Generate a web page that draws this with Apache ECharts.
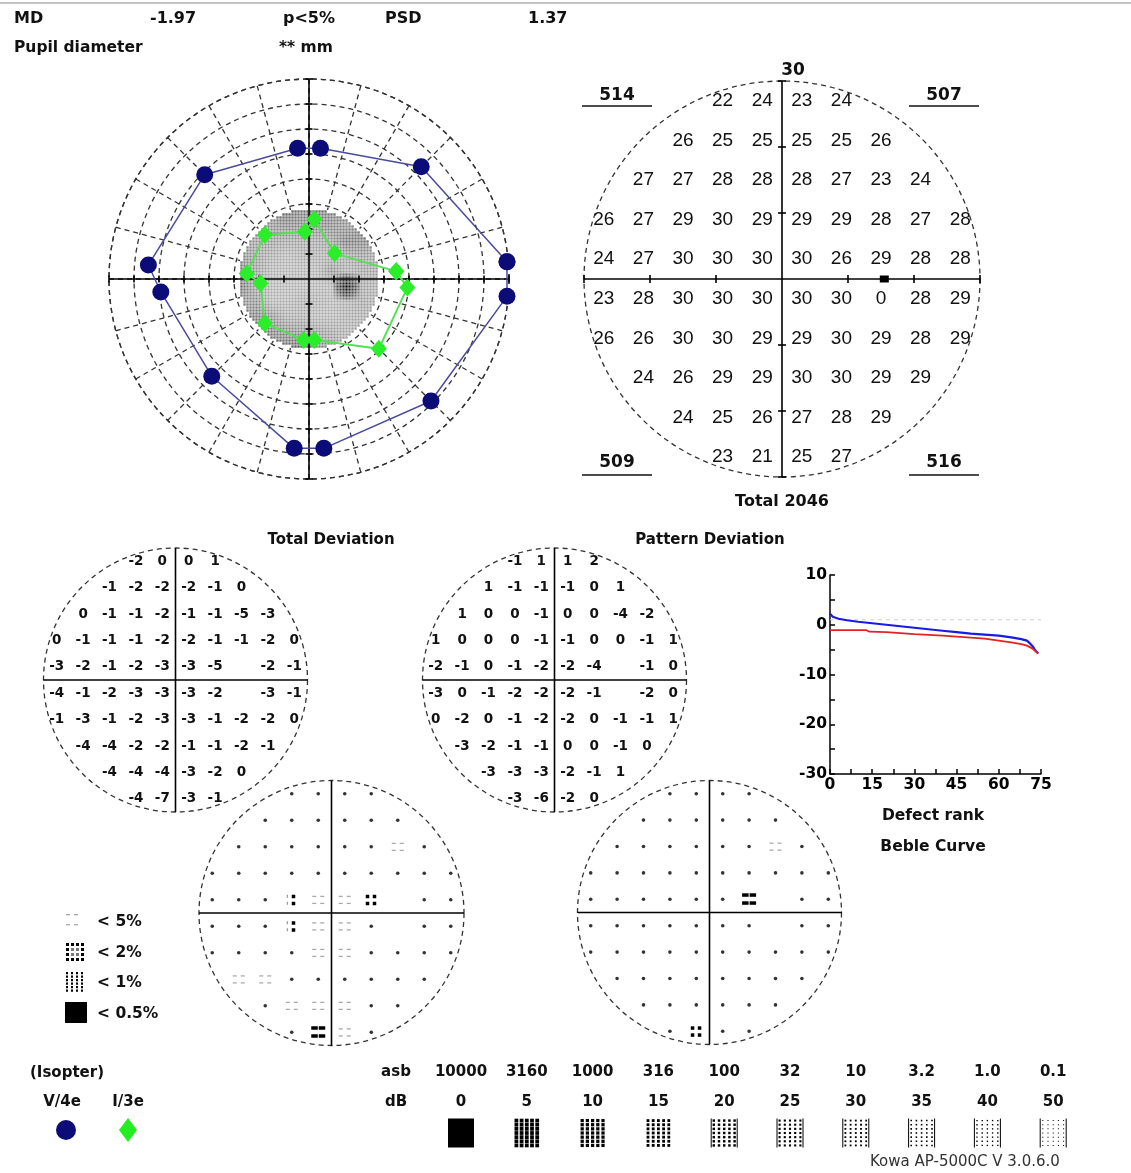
<!DOCTYPE html>
<html>
<head>
<meta charset="utf-8">
<script src="https://cdn.jsdelivr.net/npm/echarts@6/dist/echarts.min.js"></script>
<style>
  html, body { margin: 0; padding: 0; background: #fff; }
  #chart { width: 1131px; height: 1173px; }
</style>
</head>
<body>
<div id="chart"></div>
<script>
// header values
const mdValue = "-1.97";
const mdProb = "p<5%";
const psdValue = "1.37";
const pupilValue = "** mm";

// kinetic isopters: meridian (deg) and eccentricity (deg)
const v4eAngle = [5, 45, 85, 95, 135, 175, 185, 225, 265, 275, 315, 355];
const v4eEcc = [79.5, 63.5, 52.5, 52.5, 59, 64.5, 59.5, 55, 68, 68, 69, 79.5];
const i3eAngle = [5, 45, 85, 95, 135, 175, 185, 225, 265, 275, 315, 355];
const i3eEcc = [35, 14.5, 24, 19, 25, 25, 19.5, 25, 24.5, 24.5, 39.5, 39.5];

// 30-2 grid rows (top to bottom), each row centred on the vertical meridian
const rowY = [27, 21, 15, 9, 3, -3, -9, -15, -21, -27];
const threshold = [
  [22, 24, 23, 24],
  [26, 25, 25, 25, 25, 26],
  [27, 27, 28, 28, 28, 27, 23, 24],
  [26, 27, 29, 30, 29, 29, 29, 28, 27, 28],
  [24, 27, 30, 30, 30, 30, 26, 29, 28, 28],
  [23, 28, 30, 30, 30, 30, 30, 0, 28, 29],
  [26, 26, 30, 30, 29, 29, 30, 29, 28, 29],
  [24, 26, 29, 29, 30, 30, 29, 29],
  [24, 25, 26, 27, 28, 29],
  [23, 21, 25, 27]
];
const blindSpot = [15.5, 0];
const totalDev = [
  [-2, 0, 0, 1],
  [-1, -2, -2, -2, -1, 0],
  [0, -1, -1, -2, -1, -1, -5, -3],
  [0, -1, -1, -1, -2, -2, -1, -1, -2, 0],
  [-3, -2, -1, -2, -3, -3, -5, null, -2, -1],
  [-4, -1, -2, -3, -3, -3, -2, null, -3, -1],
  [-1, -3, -1, -2, -3, -3, -1, -2, -2, 0],
  [-4, -4, -2, -2, -1, -1, -2, -1],
  [-4, -4, -4, -3, -2, 0],
  [-4, -7, -3, -1]
];
const patternDev = [
  [-1, 1, 1, 2],
  [1, -1, -1, -1, 0, 1],
  [1, 0, 0, -1, 0, 0, -4, -2],
  [1, 0, 0, 0, -1, -1, 0, 0, -1, 1],
  [-2, -1, 0, -1, -2, -2, -4, null, -1, 0],
  [-3, 0, -1, -2, -2, -2, -1, null, -2, 0],
  [0, -2, 0, -1, -2, -2, 0, -1, -1, 1],
  [-3, -2, -1, -1, 0, 0, -1, 0],
  [-3, -3, -3, -2, -1, 1],
  [-3, -6, -2, 0]
];
// probability class: 0 normal, 1 <5%, 2 <2%, 3 <1%, 4 <0.5%
const totalProb = [
  [0, 0, 0, 0],
  [0, 0, 0, 0, 0, 0],
  [0, 0, 0, 0, 0, 0, 1, 0],
  [0, 0, 0, 0, 0, 0, 0, 0, 0, 0],
  [0, 0, 0, 2, 1, 1, 3, null, 0, 0],
  [0, 0, 0, 2, 1, 1, 0, null, 0, 0],
  [0, 0, 0, 0, 1, 1, 0, 0, 0, 0],
  [1, 1, 0, 0, 0, 0, 0, 0],
  [0, 1, 1, 1, 0, 0],
  [0, 4, 1, 0]
];
const patternProb = [
  [0, 0, 0, 0],
  [0, 0, 0, 0, 0, 0],
  [0, 0, 0, 0, 0, 0, 1, 0],
  [0, 0, 0, 0, 0, 0, 0, 0, 0, 0],
  [0, 0, 0, 0, 0, 0, 4, null, 0, 0],
  [0, 0, 0, 0, 0, 0, 0, null, 0, 0],
  [0, 0, 0, 0, 0, 0, 0, 0, 0, 0],
  [0, 0, 0, 0, 0, 0, 0, 0],
  [0, 0, 0, 0, 0, 0],
  [0, 3, 0, 0]
];
const probLabels = ["< 5%", "< 2%", "< 1%", "< 0.5%"];

// Bebie curve
const blueRank = [0, 1, 3, 6, 10, 15, 20, 25, 30, 35, 40, 45, 50, 55, 60, 65, 68, 70, 71, 72, 73, 74];
const blueTD = [2.2, 1.6, 1.2, 0.9, 0.6, 0.3, 0, -0.3, -0.6, -0.9, -1.2, -1.5, -1.8, -2.0, -2.2, -2.6, -2.9, -3.2, -3.7, -4.3, -5.2, -5.8];
const redRank = [0, 13, 14, 20, 30, 40, 45, 50, 55, 60, 65, 68, 70, 72, 74];
const redTD = [-1.1, -1.1, -1.4, -1.5, -1.9, -2.2, -2.4, -2.6, -2.8, -3.2, -3.6, -3.9, -4.2, -4.8, -5.8];
const refTD = 1;

// stimulus scale
const asbLevels = ["10000", "3160", "1000", "316", "100", "32", "10", "3.2", "1.0", "0.1"];
const dbLevels = [0, 5, 10, 15, 20, 25, 30, 35, 40, 50];

const FONT = '"DejaVu Sans", sans-serif';
const bold = s => "bold " + s + "px " + FONT;

function gridPoints(table) {
  const out = [];
  table.forEach((row, r) => {
    const x0 = -(row.length - 1) * 3;
    row.forEach((v, k) => { if (v !== null) out.push([x0 + 6 * k, rowY[r], v]); });
  });
  return out;
}
const thrPts = gridPoints(threshold);

// full 10x10 table for interpolation of the grey scale
const full = rowY.map(() => new Array(10).fill(null));
threshold.forEach((row, r) => {
  const c0 = (10 - row.length) / 2;
  row.forEach((v, k) => { full[r][c0 + k] = v; });
});
function thrAt(x, y) {
  const fi = (x + 27) / 6, fj = (27 - y) / 6;
  const i0 = Math.max(0, Math.min(8, Math.floor(fi)));
  const j0 = Math.max(0, Math.min(8, Math.floor(fj)));
  const tx = Math.max(0, Math.min(1, fi - i0));
  const ty = Math.max(0, Math.min(1, fj - j0));
  let s = 0, w = 0;
  [[0, 0], [1, 0], [0, 1], [1, 1]].forEach(([a, b]) => {
    const v = full[j0 + b][i0 + a];
    if (v === null) return;
    const ww = (a ? tx : 1 - tx) * (b ? ty : 1 - ty);
    s += v * ww; w += ww;
  });
  if (w > 1e-6) return s / w;
  let best = 30, bd = 1e9;
  thrPts.forEach(p => {
    const d = (p[0] - x) ** 2 + (p[1] - y) ** 2;
    if (d < bd) { bd = d; best = p[2]; }
  });
  return best;
}
function shade(v) {
  const l = v >= 20 ? 0.3 + (v - 20) / 10 * 0.36 : Math.max(0, v) / 20 * 0.3;
  const g = Math.round(l * 255);
  return "rgb(" + g + "," + g + "," + g + ")";
}
const greyCells = [];
for (let x = -28.2; x <= 28.3; x += 1.2) {
  for (let y = -28.2; y <= 28.3; y += 1.2) {
    if (x * x + y * y <= 28 * 28) {
      greyCells.push({ value: [x, y], itemStyle: { color: shade(thrAt(x, y)) } });
    }
  }
}

// layout of the panels
const grids = [
  { left: 109, top: 79, width: 400, height: 400 },     // kinetic
  { left: 584, top: 81, width: 396, height: 396 },     // threshold
  { left: 43.5, top: 548, width: 264, height: 264 },   // total deviation
  { left: 422.5, top: 548, width: 264, height: 264 },  // pattern deviation
  { left: 830, top: 575, width: 211, height: 199, outerBoundsMode: "none" }, // bebie
  { left: 199, top: 780.5, width: 265, height: 265 },  // td probability
  { left: 577.5, top: 780.5, width: 264, height: 264 } // pd probability
];
const ranges = [80, 30, 30, 30, null, 30, 30];

const axisCommon = {
  axisLine: { onZero: false, lineStyle: { color: "#000", width: 1.5 } },
  axisTick: { inside: true, length: 5, lineStyle: { color: "#000", width: 1.5 } },
  minorTick: { show: true, splitNumber: 2, length: 5, lineStyle: { color: "#000", width: 1.5 } },
  axisLabel: { color: "#000", fontSize: 15.5, fontWeight: "bold", fontFamily: FONT, margin: 3 },
  splitLine: { show: false }
};
const xAxis = grids.map((g, i) => i === 4
  ? Object.assign({ gridIndex: 4, type: "value", min: 0, max: 75, interval: 15 }, axisCommon)
  : { gridIndex: i, type: "value", min: -ranges[i], max: ranges[i], show: false });
const yAxis = grids.map((g, i) => i === 4
  ? Object.assign({ gridIndex: 4, type: "value", min: -30, max: 10, interval: 10 }, axisCommon)
  : { gridIndex: i, type: "value", min: -ranges[i], max: ranges[i], show: false });

function circleSeries(ax, R, fill, z) {
  return {
    type: "custom", xAxisIndex: ax, yAxisIndex: ax, silent: true, z: z, data: [[0, 0]],
    renderItem: (params, api) => {
      const c = api.coord([0, 0]), e = api.coord([R, 0]);
      return {
        type: "circle", shape: { cx: c[0], cy: c[1], r: e[0] - c[0] },
        style: fill ? { fill: fill } : { fill: "none", stroke: "#333", lineWidth: 1.3, lineDash: [5, 4] }
      };
    }
  };
}
function crossSeries(ax, R, step, len) {
  return {
    type: "custom", xAxisIndex: ax, yAxisIndex: ax, silent: true, z: 6, data: [[0, 0]],
    renderItem: (params, api) => {
      const st = { stroke: "#000", lineWidth: 1.6 };
      const L = (x1, y1, x2, y2) => ({ type: "line", shape: { x1, y1, x2, y2 }, style: st });
      const a = api.coord([-R, 0]), b = api.coord([R, 0]);
      const c = api.coord([0, R]), d = api.coord([0, -R]);
      const ch = [L(a[0], a[1], b[0], b[1]), L(c[0], c[1], d[0], d[1])];
      if (step) {
        for (let t = -R; t <= R; t += step) {
          if (t === 0) continue;
          const p = api.coord([t, 0]), q = api.coord([0, t]);
          ch.push(L(p[0], p[1] - len, p[0], p[1] + len));
          ch.push(L(q[0] - len, q[1], q[0] + len, q[1]));
        }
      }
      return { type: "group", children: ch };
    }
  };
}
function textSeries(ax, pts, font) {
  return {
    type: "custom", xAxisIndex: ax, yAxisIndex: ax, silent: true, z: 7, data: pts,
    renderItem: (params, api) => {
      const p = api.coord([api.value(0), api.value(1)]);
      return {
        type: "text", x: p[0], y: p[1],
        style: { text: String(api.value(2)), font: font, fill: "#111",
                 align: "center", verticalAlign: "middle", textAlign: "center", textVerticalAlign: "middle" }
      };
    }
  };
}
function probShape(cx, cy, lvl) {
  const R = (x, y, w, h, c) => ({ type: "rect", shape: { x: cx + x, y: cy + y, width: w, height: h }, style: { fill: c } });
  let ch;
  if (lvl === 0) ch = [{ type: "circle", shape: { cx: cx, cy: cy, r: 1.8 }, style: { fill: "#333" } }];
  else if (lvl === 1) ch = [R(-6, -4, 4, 1.3, "#aaa"), R(2, -4, 4, 1.3, "#aaa"), R(-6, 3, 4, 1.3, "#aaa"), R(2, 3, 4, 1.3, "#aaa")];
  else if (lvl === 2) ch = [R(-5, -5, 1.3, 3, "#999"), R(0, -5, 3.5, 3.5, "#000"), R(-5, 2, 1.3, 3, "#999"), R(0, 2, 3.5, 3.5, "#000")];
  else if (lvl === 3) ch = [R(-5.5, -5, 3.5, 3.5, "#000"), R(1.5, -5, 3.5, 3.5, "#000"), R(-5.5, 2, 3.5, 3.5, "#000"), R(1.5, 2, 3.5, 3.5, "#000")];
  else ch = [R(-7, -6, 6.5, 3.5, "#000"), R(0.5, -6, 6.5, 3.5, "#000"), R(-7, 2, 6.5, 3.5, "#000"), R(0.5, 2, 6.5, 3.5, "#000")];
  return { type: "group", children: ch };
}
function probSeries(ax, pts) {
  return {
    type: "custom", xAxisIndex: ax, yAxisIndex: ax, silent: true, z: 7, data: pts,
    renderItem: (params, api) => {
      const p = api.coord([api.value(0), api.value(1)]);
      return probShape(p[0], p[1], api.value(2));
    }
  };
}
const closed = (ecc, ang) => ecc.map((e, i) => [e, ang[i]]).concat([[ecc[0], ang[0]]]);

// graphic texts and legends
const g = [];
const txt = (text, x, y, font, align, extra, color) => g.push(Object.assign({
  type: "text", x: x, y: y, z: 100,
  style: { text: text, font: font, fill: color || "#111", align: align || "left", verticalAlign: "middle",
           textAlign: align || "left", textVerticalAlign: "middle" }
}, extra || {}));
const rect = (x, y, w, h, c) => g.push({ type: "rect", z: 100, shape: { x, y, width: w, height: h }, style: { fill: c } });
const line = (x1, y1, x2, y2, c, w) => g.push({ type: "line", z: 100, shape: { x1, y1, x2, y2 }, style: { stroke: c, lineWidth: w } });

line(0, 3, 1131, 3, "#c4c4c4", 2);
txt("MD", 14, 19, bold(16));
txt(mdValue, 150, 19, bold(16));
txt(mdProb, 283, 19, bold(16));
txt("PSD", 385, 19, bold(16));
txt(psdValue, 528, 19, bold(16));
txt("Pupil diameter", 14, 48, bold(15.5));
txt(pupilValue, 279, 48, bold(15.5));

// quadrant sums of the threshold grid
const qsum = (fx, fy) => thrPts.filter(p => fx(p[0]) && fy(p[1])).reduce((s, p) => s + p[2], 0);
const neg = v => v < 0, pos = v => v > 0;
const quads = [
  [qsum(neg, pos), 617, 96, 106], [qsum(pos, pos), 944, 96, 106],
  [qsum(neg, neg), 617, 463, 475], [qsum(pos, neg), 944, 463, 475]
];
quads.forEach(q => {
  txt(String(q[0]), q[1], q[2], bold(17), "center");
  line(q[1] - 35, q[3], q[1] + 35, q[3], "#111", 1.5);
});
txt("30", 793, 71, bold(17), "center");
txt("Total " + thrPts.reduce((s, p) => s + p[2], 0), 782, 502, bold(16), "center");
txt("Total Deviation", 331, 540, bold(15), "center");
txt("Pattern Deviation", 710, 540, bold(15), "center");
txt("TD(dB)", 779, 668, bold(15), "center", { rotation: Math.PI / 2, originX: 779, originY: 668 });
txt("Defect rank", 933, 816, bold(15.5), "center");
txt("Beble Curve", 933, 847, bold(15.5), "center");

// probability legend
const legY = [920, 951, 981, 1012];
[[66, 914], [74, 914], [66, 924], [74, 924]].forEach(p => rect(p[0], p[1], 4, 1.3, "#aaa"));
for (let i = 0; i < 4; i++) for (let j = 0; j < 4; j++) {
  const inner = (i === 1 || i === 2) && (j === 1 || j === 2);
  rect(66 + i * 5, 943 + j * 5, 3, 3, inner ? "#777" : "#000");
}
for (let i = 0; i < 4; i++) for (let j = 0; j < 6; j++) rect(66 + i * 5, 972 + j * 3.5, 2, 2.3, "#000");
rect(65, 1002, 22, 21, "#000");
probLabels.forEach((t, i) => txt(t, 97, legY[i] + 2, bold(15.5)));

// isopter legend
txt("(Isopter)", 30, 1073, bold(15));
txt("V/4e", 62, 1102, bold(15), "center");
txt("I/3e", 128, 1102, bold(15), "center");
g.push({ type: "circle", z: 100, shape: { cx: 66, cy: 1130, r: 10 }, style: { fill: "#0c0c78" } });
g.push({ type: "polygon", z: 100, shape: { points: [[128, 1118], [137, 1130], [128, 1142], [119, 1130]] }, style: { fill: "#22ee22" } });

// stimulus scale legend
txt("asb", 396, 1072, bold(15), "center");
txt("dB", 396, 1102, bold(15), "center");
dbLevels.forEach((db, i) => {
  const cx = 461 + i * 65.8, cy = 1133, w = 26, h = 29, x0 = cx - w / 2, y0 = cy - h / 2;
  txt(asbLevels[i], cx, 1072, bold(15), "center");
  txt(String(db), cx, 1102, bold(15), "center");
  if (db === 0) { rect(x0, y0, w, h, "#000"); return; }
  const dark = Math.pow(parseFloat(asbLevels[i]) / 10000, 0.25);
  const cw = w / 5, chh = h / 7, s = Math.sqrt(dark) * Math.min(cw, chh) * 1.05;
  for (let a = 0; a < 5; a++) for (let b = 0; b < 7; b++) {
    rect(x0 + a * cw + (cw - s) / 2, y0 + b * chh + (chh - s) / 2, s, s, "#000");
  }
  if (db >= 20) { line(x0, y0, x0, y0 + h, "#000", 1); line(x0 + w, y0, x0 + w, y0 + h, "#000", 1); }
});
txt("Kowa AP-5000C V 3.0.6.0", 870, 1162, "15px " + FONT, "left", null, "#333");

const dashed = { color: "#333", type: [5, 4], width: 1.3 };
const option = {
  animation: false,
  backgroundColor: "#fff",
  polar: [{ center: [309, 279], radius: 200 }],
  angleAxis: {
    polarIndex: 0, type: "value", min: 0, max: 360, interval: 15, startAngle: 0, clockwise: false,
    axisLine: { show: true, lineStyle: dashed }, axisTick: { show: false }, axisLabel: { show: false },
    splitLine: { show: true, lineStyle: dashed }
  },
  radiusAxis: {
    polarIndex: 0, type: "value", min: 0, max: 80, interval: 10,
    axisLine: { show: false }, axisTick: { show: false }, axisLabel: { show: false },
    splitLine: { show: true, lineStyle: dashed }
  },
  grid: grids,
  xAxis: xAxis,
  yAxis: yAxis,
  graphic: { elements: g },
  series: [
    // kinetic plot
    circleSeries(0, 28.6, "#fff", 1),
    { type: "scatter", xAxisIndex: 0, yAxisIndex: 0, symbol: "rect", symbolSize: 2.4, silent: true, z: 2,
      itemStyle: { opacity: 1 }, data: greyCells },
    crossSeries(0, 80, 10, 3.5),
    { type: "line", coordinateSystem: "polar", polarIndex: 0, data: closed(v4eEcc, v4eAngle), symbol: "circle", symbolSize: 17,
      itemStyle: { color: "#0c0c78" }, lineStyle: { color: "#4b4b9c", width: 1.5 }, z: 8, silent: true },
    { type: "line", coordinateSystem: "polar", polarIndex: 0, data: closed(i3eEcc, i3eAngle), symbol: "diamond", symbolSize: [16, 18],
      itemStyle: { color: "#2bee2b" }, lineStyle: { color: "#55e055", width: 2 }, z: 8, silent: true },
    // threshold values
    circleSeries(1, 30, null, 3),
    crossSeries(1, 30, 10, 4),
    textSeries(1, thrPts, "19px \"Liberation Sans\", sans-serif"),
    { type: "scatter", xAxisIndex: 1, yAxisIndex: 1, symbol: "rect", symbolSize: [9, 7], silent: true, z: 8,
      itemStyle: { color: "#000", opacity: 1 }, data: [blindSpot] },
    // deviation maps
    circleSeries(2, 30, null, 3),
    crossSeries(2, 30, 0, 0),
    textSeries(2, gridPoints(totalDev), bold(13.5)),
    circleSeries(3, 30, null, 3),
    crossSeries(3, 30, 0, 0),
    textSeries(3, gridPoints(patternDev), bold(13.5)),
    // probability maps
    circleSeries(5, 30, null, 3),
    crossSeries(5, 30, 0, 0),
    probSeries(5, gridPoints(totalProb)),
    circleSeries(6, 30, null, 3),
    crossSeries(6, 30, 0, 0),
    probSeries(6, gridPoints(patternProb)),
    // bebie curve
    { type: "line", xAxisIndex: 4, yAxisIndex: 4, data: [[0, refTD], [75, refTD]], symbol: "none", silent: true,
      lineStyle: { color: "#cfcfcf", width: 1, type: [4, 4] }, z: 2 },
    { type: "line", xAxisIndex: 4, yAxisIndex: 4, data: blueRank.map((r, i) => [r, blueTD[i]]), symbol: "none",
      lineStyle: { color: "#1a1ae6", width: 2.2 }, z: 3 },
    { type: "line", xAxisIndex: 4, yAxisIndex: 4, data: redRank.map((r, i) => [r, redTD[i]]), symbol: "none",
      lineStyle: { color: "#e32222", width: 1.8 }, z: 4 }
  ]
};
const chart = echarts.init(document.getElementById("chart"));
chart.setOption(option);
</script>
</body>
</html>
